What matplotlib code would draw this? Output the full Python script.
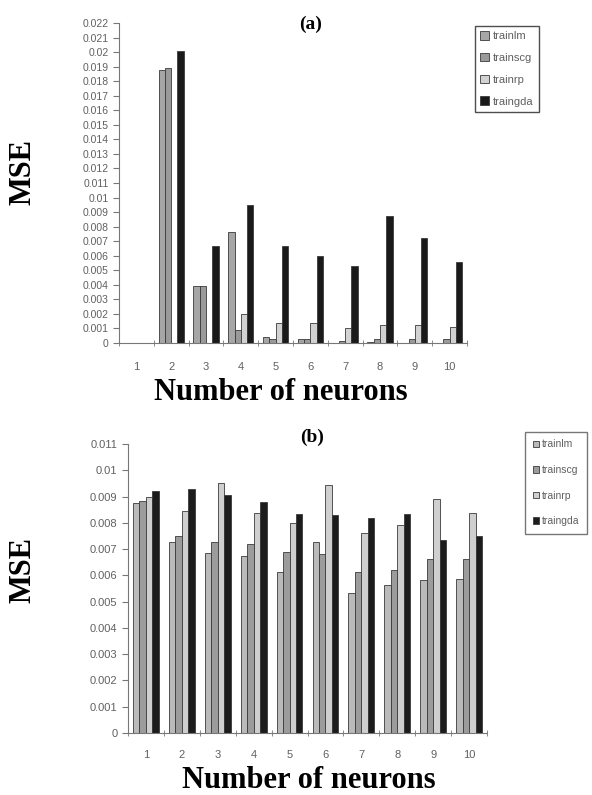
import numpy as np
import matplotlib
matplotlib.use("Agg")
import matplotlib.pyplot as plt

neurons = np.arange(1, 11)
series = ["trainlm", "trainscg", "trainrp", "traingda"]

# (a)
a_lm   = [0, 0.0188, 0.0039, 0.0076, 0.0004, 0.0003, 0.0000, 0.0001, 0.0000, 0.0000]
a_scg  = [0, 0.0189, 0.0039, 0.0009, 0.0003, 0.0003, 0.00015, 0.0003, 0.0003, 0.0003]
a_rp   = [0, 0.0, 0.0, 0.0020, 0.0014, 0.0014, 0.0010, 0.00125, 0.00125, 0.0011]
a_gda  = [0, 0.0201, 0.0067, 0.0095, 0.0067, 0.0060, 0.0053, 0.0087, 0.0072, 0.0056]

# (b)
b_lm   = [0.00876, 0.00726, 0.00685, 0.00673, 0.00612, 0.00726, 0.00533, 0.00565, 0.00581, 0.00588]
b_scg  = [0.00882, 0.00749, 0.00726, 0.00721, 0.00688, 0.00683, 0.00612, 0.00619, 0.00664, 0.00664]
b_rp   = [0.00898, 0.00846, 0.00952, 0.00838, 0.00800, 0.00945, 0.00761, 0.00793, 0.00891, 0.00838]
b_gda  = [0.00920, 0.00930, 0.00907, 0.00879, 0.00835, 0.00831, 0.00819, 0.00835, 0.00736, 0.00749]

COL_A = ["#a6a6a6", "#9a9a9a", "#d2d2d2", "#1a1a1a"]
COL_B = ["#bababa", "#9c9c9c", "#cfcfcf", "#1c1c1c"]
TICK = "#606060"
SERIF = "Liberation Serif"
SANS = "Liberation Sans"

W, H = 592, 795
fig = plt.figure(figsize=(W / 100, H / 100), dpi=100)


def box(l, r, b, t):
    return [l / W, 1 - b / H, (r - l) / W, (b - t) / H]


def bars(ax, data, cols, w=0.18):
    hs = []
    for i, (vals, c) in enumerate(zip(data, cols)):
        h = ax.bar(neurons + (i - 1.5) * w, vals, w, color=c,
                   edgecolor="#3a3a3a", linewidth=0.6, label=series[i])
        hs.append(h)
    ax.set_xlim(0.5, 10.5)
    ax.set_xticks(neurons)
    ax.set_xticklabels([str(n) for n in neurons], family=SANS)
    ax.set_xticks(np.arange(0.5, 11.0, 1.0), minor=True)
    ax.tick_params(axis="x", which="major", length=0, pad=12,
                   labelsize=8, labelcolor=TICK)
    ax.tick_params(axis="x", which="minor", length=5, direction="inout",
                   color="#777777")
    ax.tick_params(axis="y", length=4, color="#777777", labelsize=7.5,
                   labelcolor=TICK)
    for s in ("top", "right"):
        ax.spines[s].set_visible(False)
    for s in ("left", "bottom"):
        ax.spines[s].set_color("#777777")
    return hs


def yticks(ax, top):
    vals = np.round(np.arange(0, top + 0.0005, 0.001), 3)
    ax.set_ylim(0, top)
    ax.set_yticks(vals)
    ax.set_yticklabels(["%g" % v for v in vals], family=SANS)


ax1 = fig.add_axes(box(119, 467, 343, 23))
h1 = bars(ax1, [a_lm, a_scg, a_rp, a_gda], COL_A)
yticks(ax1, 0.022)
ax1.tick_params(axis="x", which="major", pad=14)

ax2 = fig.add_axes(box(128, 487, 733, 444))
h2 = bars(ax2, [b_lm, b_scg, b_rp, b_gda], COL_B)
yticks(ax2, 0.011)
ax2.tick_params(axis="y", labelsize=8)

# labels
for yy in (172, 570):
    fig.text(23 / W, 1 - yy / H, "MSE", rotation=90, ha="center", va="center",
             family=SERIF, fontweight="bold", fontsize=22)
fig.text(281 / W, 1 - 392 / H, "Number of neurons", ha="center", va="center",
         family=SERIF, fontweight="bold", fontsize=22)
fig.text(309 / W, 1 - 780 / H, "Number of neurons", ha="center", va="center",
         family=SERIF, fontweight="bold", fontsize=22)
fig.text(311 / W, 1 - 24 / H, "(a)", ha="center", va="center",
         family=SERIF, fontweight="bold", fontsize=14)
fig.text(312 / W, 1 - 437 / H, "(b)", ha="center", va="center",
         family=SERIF, fontweight="bold", fontsize=14)

leg1 = fig.legend(handles=h1, labels=series, loc="upper left",
                  bbox_to_anchor=(469 / W, 1 - 20 / H), frameon=True,
                  fancybox=False, edgecolor="#222222",
                  handlelength=0.8, handleheight=0.8, handletextpad=0.3,
                  labelspacing=1.05, borderpad=0.5, prop={"family": SANS, "size": 8})
for t in leg1.get_texts():
    t.set_color(TICK)

leg2 = fig.legend(handles=h2, labels=series, loc="upper left",
                  bbox_to_anchor=(520 / W, 1 - 427 / H), frameon=True,
                  fancybox=False, edgecolor="#555555",
                  handlelength=0.6, handleheight=0.6, handletextpad=0.3,
                  labelspacing=1.5, borderpad=0.7, prop={"family": SANS, "size": 7.5})
for t in leg2.get_texts():
    t.set_color(TICK)

fig.savefig("out.png", dpi=100)
